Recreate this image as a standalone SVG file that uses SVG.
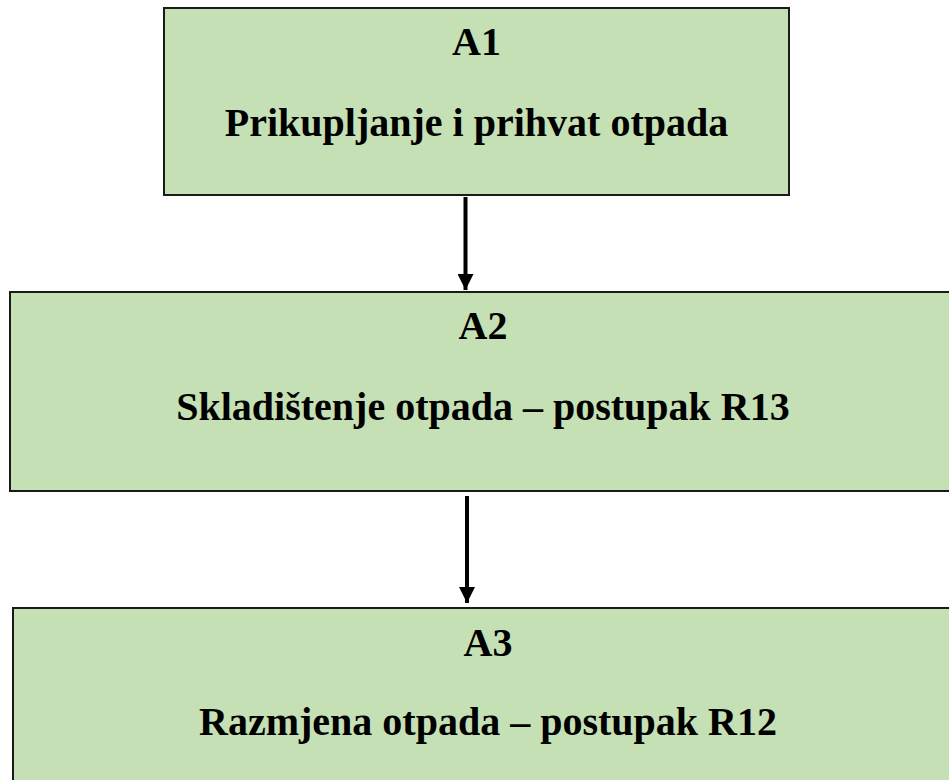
<svg xmlns="http://www.w3.org/2000/svg" width="949" height="780" viewBox="0 0 949 780">
<defs>
<style>
.box{fill:#C5E0B4;stroke:#1a1a1a;stroke-width:2}
.t{font-family:"Liberation Serif","Times New Roman",serif;font-weight:bold;font-size:40px;fill:#000;text-anchor:middle}
.c{stroke:#000;stroke-width:4;fill:none}
</style>
<marker id="ah" markerUnits="userSpaceOnUse" markerWidth="16" markerHeight="16" refX="16" refY="8" orient="auto">
<path d="M0,0 L16,8 L0,16 Z" fill="#000"/>
</marker>
</defs>
<rect width="949" height="780" fill="#fff"/>
<g id="A1">
<rect class="box" x="164" y="8" width="625" height="187"/>
<text class="t" x="476.5" y="55">A1</text>
<text class="t" x="476.5" y="136">Prikupljanje i prihvat otpada</text>
</g>
<g id="A2">
<rect class="box" x="10" y="292" width="950" height="199"/>
<text class="t" x="483" y="339">A2</text>
<text class="t" x="483" y="420">Skladištenje otpada – postupak R13</text>
</g>
<g id="A3">
<rect class="box" x="13" y="608" width="950" height="190"/>
<text class="t" x="488" y="656">A3</text>
<text class="t" x="488" y="735">Razmjena otpada – postupak R12</text>
</g>
<g id="connectors">
<line class="c" x1="465.5" y1="197" x2="465.5" y2="290" marker-end="url(#ah)"/>
<line class="c" x1="467" y1="496" x2="467" y2="603" marker-end="url(#ah)"/>
</g>
</svg>
